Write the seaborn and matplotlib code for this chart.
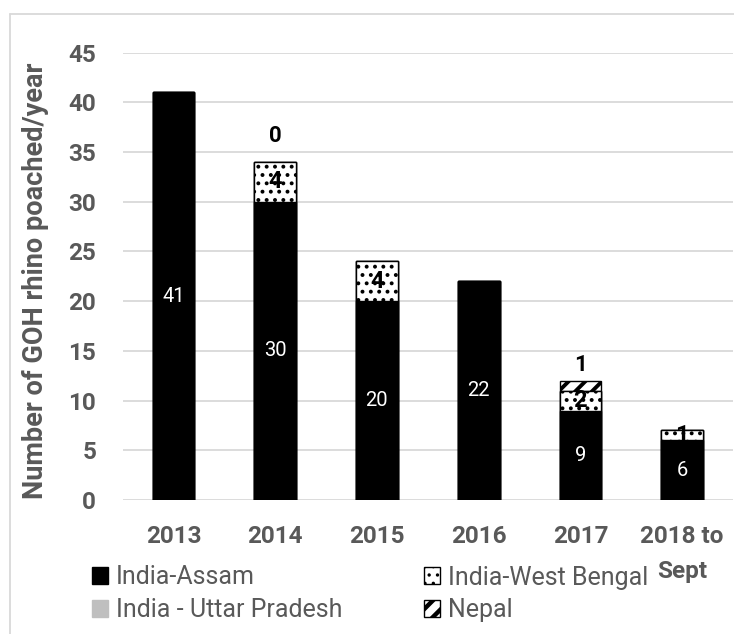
import matplotlib
matplotlib.use("Agg")
import matplotlib.pyplot as plt
from matplotlib.patches import Patch
from matplotlib.lines import Line2D
import seaborn as sns
import pandas as pd
import numpy as np

# ---- data ----
years = ['2013', '2014', '2015', '2016', '2017', '2018 to\nSept']
assam = [41, 30, 20, 22, 9, 6]
west_bengal = [None, 4, 4, None, 2, 1]
uttar_pradesh = [None, None, None, None, None, None]
nepal = [None, 0, None, None, 1, None]

series_names = ['India-Assam', 'India-West Bengal', 'India - Uttar Pradesh', 'Nepal']

# ---- styling ----
sns.set_theme(style="white")
plt.rcParams['font.family'] = ['Roboto', 'DejaVu Sans']
GRAY = '#595959'
GRID = '#D9D9D9'

def nz(v):
    return np.array([0 if x is None else x for x in v], dtype=float)

a = nz(assam); wb = nz(west_bengal); up = nz(uttar_pradesh); np_ = nz(nepal)
cum1 = a
cum2 = a + wb
cum3 = cum2 + up
cum4 = cum3 + np_

df = pd.DataFrame({'year': years, 'c1': cum1, 'c2': cum2, 'c3': cum3, 'c4': cum4})

fig = plt.figure(figsize=(7.34, 6.34), dpi=100)
ax = fig.add_axes([122.6 / 734, 1 - 500 / 634, (733 - 122.6) / 734, (500 - 52.5) / 634])

W = 0.41
layers = [
    ('c4', 'white', '//', 2.8),
    ('c3', '#BFBFBF', None, 1.0),
    ('c2', 'white', '..', 1.6),
    ('c1', 'black', None, 1.0),
]
for col, fc, hatch, hlw in layers:
    n_before = len(ax.patches)
    kw = {}
    if hatch:
        kw['hatch'] = hatch
    sns.barplot(data=df, x='year', y=col, order=years, color=fc, saturation=1,
                width=W, edgecolor='black', linewidth=1.0, errorbar=None, ax=ax, **kw)
    for p in ax.patches[n_before:]:
        p.set_facecolor(fc)
        if hatch and hasattr(p, 'set_hatch_linewidth'):
            p.set_hatch_linewidth(hlw)

ax.set_ylim(0, 45)
ax.set_xlim(-0.5, len(years) - 0.5)
ax.set_yticks(range(0, 46, 5))
ax.yaxis.grid(True, color=GRID, linewidth=1.3)
ax.xaxis.grid(False)
ax.set_axisbelow(True)
for s in ax.spines.values():
    s.set_visible(False)
ax.tick_params(axis='both', length=0, colors=GRAY, labelsize=17.5)
ax.tick_params(axis='y', pad=19)
ax.tick_params(axis='x', pad=18)
for t in ax.get_yticklabels():
    t.set_fontweight('bold')
for t in ax.get_xticklabels():
    t.set_fontweight('bold')
    t.set_linespacing(1.65)
ax.set_xlabel('')
ax.set_ylabel('Number of GOH rhino poached/year', fontsize=19.5, fontweight='bold', color=GRAY)
ax.yaxis.set_label_coords(-0.12, 0.49)

# ---- data labels ----
for i in range(len(years)):
    ax.text(i, a[i] / 2, f"{assam[i]}", ha='center', va='center', color='white', fontsize=14.5)
    if west_bengal[i] is not None:
        ax.text(i, a[i] + wb[i] / 2, f"{west_bengal[i]}", ha='center', va='center',
                color='black', fontsize=17, fontweight='bold')

nepal_label_offset = {1: 18.5, 4: 11.3}  # points above stack top
for i in range(len(years)):
    if nepal[i] is not None:
        ax.annotate(f"{nepal[i]}", xy=(i, cum4[i]), xytext=(0, nepal_label_offset.get(i, 12)),
                    textcoords='offset points', ha='center', va='center',
                    color='black', fontsize=16, fontweight='bold')

# ---- legend ----
def mk(fc, hatch=None):
    return Patch(facecolor=fc, edgecolor='black' if hatch else fc, hatch=hatch, linewidth=1)

handles = [mk('black'), mk('#BFBFBF'), mk('white', '..'), mk('white', '//')]
labels = [series_names[0], series_names[2], series_names[1], series_names[3]]
leg = fig.legend(handles, labels, ncol=2, loc='upper left',
                 bbox_to_anchor=(92 / 734, 1 - 565.5 / 634), frameon=False,
                 fontsize=18, handlelength=0.64, handleheight=0.64, handletextpad=0.3,
                 columnspacing=3.3, labelspacing=0.35, borderpad=0, borderaxespad=0)
for t in leg.get_texts():
    t.set_color(GRAY)
leg_hlw = [1.0, 1.0, 1.2, 3.2]
for p, lw in zip(leg.legend_handles, leg_hlw):
    if hasattr(p, 'set_hatch_linewidth'):
        p.set_hatch_linewidth(lw)

# ---- figure border (left + top visible) ----
fig.add_artist(Line2D([9.5 / 734, 9.5 / 734], [0, 1 - 14 / 634], color=GRID, lw=1.3,
                      transform=fig.transFigure))
fig.add_artist(Line2D([9.5 / 734, 1], [1 - 14 / 634, 1 - 14 / 634], color=GRID, lw=1.3,
                      transform=fig.transFigure))

fig.savefig('out.png', dpi=100)
